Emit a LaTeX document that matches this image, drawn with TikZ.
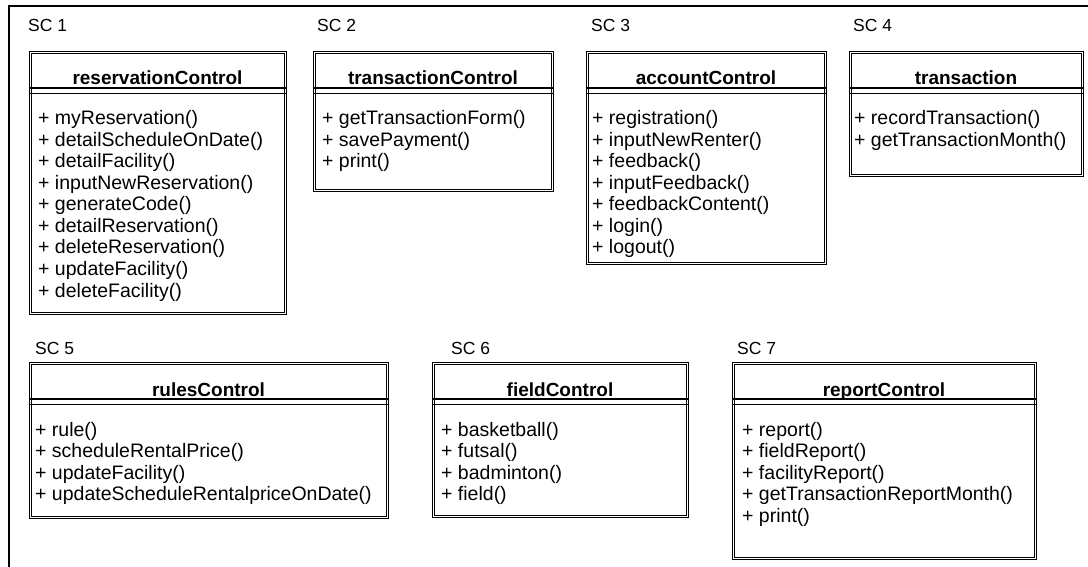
\documentclass[tikz,border=0pt]{standalone}
\usepackage{fontspec}
\setmainfont{Liberation Sans}
\tikzset{
  frame/.style={draw, line width=1.4pt},
  classbox/.style={draw, line width=1.3pt, double, double distance=0.8pt, inner sep=0pt, anchor=north west},
  headthick/.style={line width=2pt},
  headthin/.style={line width=0.9pt},
  lbl/.style={anchor=base west, inner sep=0pt, font=\fontsize{17.5}{20}\selectfont},
  ttl/.style={anchor=base, inner sep=0pt, font=\fontsize{19}{21}\selectfont\bfseries},
  meth/.style={anchor=base west, inner sep=0pt, font=\fontsize{19.5}{21.5}\selectfont}
}
% #1 id, #2 x1, #3 y1, #4 x2, #5 y2, #6 title, #7 text x, #8 first baseline, #9 methods
\newcommand\umlclass[9]{%
  \node[classbox, minimum width={(#4-#2)*1pt}, minimum height={(#5-#3)*1pt}] (#1) at (#2,#3) {};
  \draw[headthick] (#1.west |- 0,{#3+36}) -- (#1.east |- 0,{#3+36});
  \draw[headthin] (#1.west |- 0,{#3+41}) -- (#1.east |- 0,{#3+41});
  \node[ttl] (#1t) at ({(#2+#4)/2},{#3+33}) {#6};
  \foreach \m [count=\i] in {#9} {
    \node[meth] (#1m\i) at (#7,{#8+(\i-1)*21.5}) {\m};
  }
}
\begin{document}
\begin{tikzpicture}[x=1pt,y=-1pt]
  \useasboundingbox (0,0) rectangle (1088,567);
  \coordinate (fbl) at (9,567);
  \coordinate (ftl) at (9,6);
  \coordinate (ftr) at (1088,6);
  \draw[frame] (fbl) -- (ftl) -- (ftr);

  \node[lbl] (l1) at (28,32) {SC 1};
  \node[lbl] (l2) at (317,32) {SC 2};
  \node[lbl] (l3) at (591,32) {SC 3};
  \node[lbl] (l4) at (853,32) {SC 4};
  \node[lbl] (l5) at (35,354) {SC 5};
  \node[lbl] (l6) at (451,354) {SC 6};
  \node[lbl] (l7) at (737,354) {SC 7};

  \umlclass{c1}{30}{52}{285}{313}{reservationControl}{38}{125}{+ myReservation(), + detailScheduleOnDate(), + detailFacility(), + inputNewReservation(), + generateCode(), + detailReservation(), + deleteReservation(), + updateFacility(), + deleteFacility()}
  \umlclass{c2}{314}{52}{552}{190}{transactionControl}{322}{125}{+ getTransactionForm(), + savePayment(), + print()}
  \umlclass{c3}{587}{52}{825}{263}{accountControl}{592}{125}{+ registration(), + inputNewRenter(), + feedback(), + inputFeedback(), + feedbackContent(), + login(), + logout()}
  \umlclass{c4}{850}{52}{1082}{175}{transaction}{854}{125}{+ recordTransaction(), + getTransactionMonth()}
  \umlclass{c5}{30}{363}{387}{517}{rulesControl}{35}{436}{+ rule(), + scheduleRentalPrice(), + updateFacility(), + updateScheduleRentalpriceOnDate()}
  \umlclass{c6}{433}{363}{687}{516}{fieldControl}{441}{436}{+ basketball(), + futsal(), + badminton(), + field()}
  \umlclass{c7}{733}{363}{1035}{558}{reportControl}{742}{436}{+ report(), + fieldReport(), + facilityReport(), + getTransactionReportMonth(), + print()}
\end{tikzpicture}
\end{document}
